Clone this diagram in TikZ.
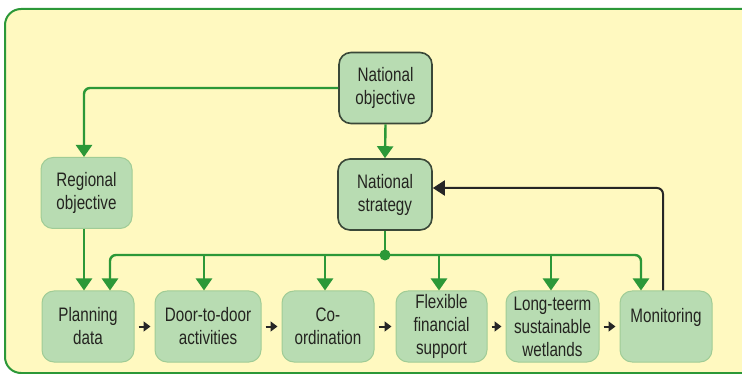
\documentclass[tikz,border=0pt]{standalone}
\usepackage{fontspec}
\setmainfont{Liberation Sans}[FakeStretch=0.78]
\usetikzlibrary{arrows.meta}
\definecolor{bgyellow}{RGB}{255,249,192}
\definecolor{boxgreen}{RGB}{184,220,178}
\definecolor{linegreen}{RGB}{44,152,56}
\definecolor{edgedark}{RGB}{58,72,56}
\definecolor{edgelight}{RGB}{160,204,150}
\definecolor{txtdark}{RGB}{36,36,32}
\begin{document}
\begin{tikzpicture}[x=1pt,y=-1pt,line cap=butt,line join=round]
	\tikzset{
		box/.style={draw=edgelight,line width=1pt,fill=boxgreen,rounded corners=12pt,align=center,inner sep=0pt,
			text=txtdark,font=\fontsize{19.5}{23}\selectfont,minimum height=71pt},
		keybox/.style={box,draw=edgedark,line width=1.6pt},
		flow/.style={draw=linegreen,line width=2.4pt,-{Triangle[width=16pt,length=12pt]}},
		feed/.style={draw=black!85,line width=2pt,-{Triangle[width=15pt,length=12pt]}},
		step arrow/.style={draw=black!85,line width=2pt,-{Triangle[width=10pt,length=7pt]},shorten <=4pt,shorten >=4pt}
	}
	\useasboundingbox (0,0) rectangle (742,374);
	\begin{scope}
		\clip (0,0) rectangle (742,374);
		\draw[linegreen,line width=2pt,fill=bgyellow,rounded corners=16pt] (5,9) rectangle (760,373);
	\end{scope}
	% upper row
	\node[keybox,minimum width=93pt] (natobj) at (385.5,88) {National\\objective};
	\node[keybox,minimum width=94pt] (natstr) at (385,194.5) {National\\strategy};
	\node[box,minimum width=91pt] (regobj) at (86.5,193) {Regional\\objective};
	% lower row
	\node[box,minimum width=92pt] (plan) at (88,326.5) {Planning\\data};
	\node[box,minimum width=106pt] (door) at (208,326.5) {Door-to-door\\activities};
	\node[box,minimum width=92pt] (coord) at (328,326.5) {Co-\\ordination};
	\node[box,minimum width=91pt] (flex) at (441.5,326.5) {Flexible\\financial\\support};
	\node[box,minimum width=93pt] (long) at (552.5,326.5) {Long-teerm\\sustainable\\wetlands};
	\node[box,minimum width=92pt] (mon) at (666,326.5) {Monitoring\\\mbox{}};
	\coordinate (hub) at (385,255);
	% green links
	\draw[flow,rounded corners=6pt] (natobj.west) -| ([xshift=-2.5pt]regobj.north);
	\draw[flow] (natobj.south) -- (natstr.north);
	\draw[flow] ([xshift=-2.5pt]regobj.south) -- ([xshift=-4pt]plan.north);
	\draw[linegreen,line width=2.4pt] (natstr.south) -- (hub);
	\fill[linegreen] (hub) circle (5.5pt);
	\draw[flow,rounded corners=6pt] (hub) -| ([xshift=22pt]plan.north);
	\draw[flow,rounded corners=6pt] (hub) -| ([xshift=-25pt]mon.north);
	\foreach \n/\dx in {door/-4,coord/-3,flex/-2.5,long/-1.5}
		\draw[flow] ([xshift=\dx pt]\n.north |- hub) -- ([xshift=\dx pt]\n.north);
	% feedback
	\draw[feed,rounded corners=6pt] ([xshift=-3pt]mon.north) |- ([yshift=6.5pt]natstr.east);
	% sequence
	\foreach \a/\b in {plan/door,door/coord,coord/flex,flex/long,long/mon}
		\draw[step arrow] (\a.east) -- (\b.west);
\end{tikzpicture}
\end{document}
